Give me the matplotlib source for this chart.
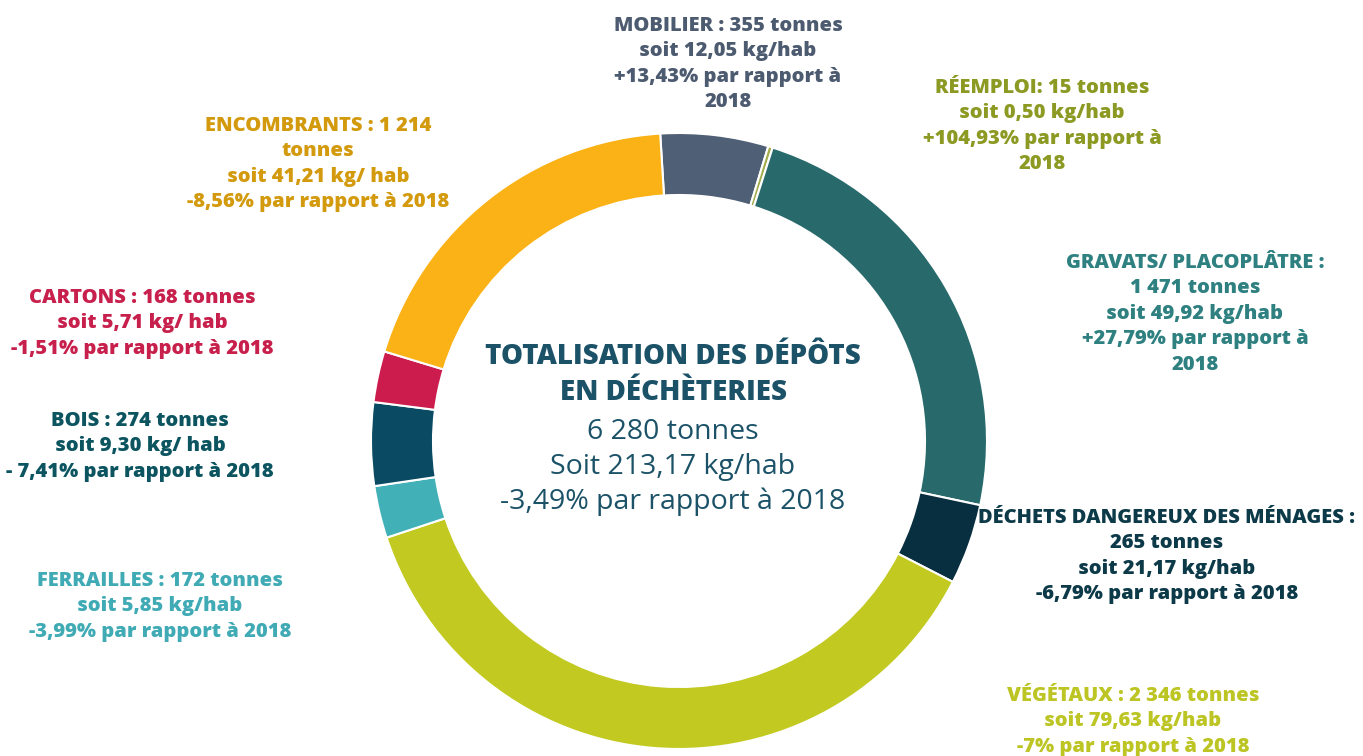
import matplotlib
matplotlib.use("Agg")
import matplotlib.pyplot as plt

plt.rcParams['font.family'] = ['Open Sans', 'DejaVu Sans']

# données (tonnes), dans l'ordre des parts en partant du haut
categories = ["MOBILIER", "RÉEMPLOI", "GRAVATS/ PLACOPLÂTRE", "DÉCHETS DANGEREUX DES MÉNAGES",
              "VÉGÉTAUX", "FERRAILLES", "BOIS", "CARTONS", "ENCOMBRANTS"]
tonnes = [355, 15, 1471, 265, 2346, 172, 274, 168, 1214]
slice_colors = ["#4f5f76", "#a3ad4e", "#286a6c", "#082f3f", "#c2ca22",
                "#42b0b7", "#0a4b63", "#cc1c4d", "#fbb216"]
text_colors = ["#4d5b70", "#8c9a24", "#2f8080", "#0d3a48", "#bcc524",
               "#40aab5", "#0c5560", "#c8204c", "#d39a0e"]
labels = [
    "MOBILIER : 355 tonnes\nsoit 12,05 kg/hab\n+13,43% par rapport à\n2018",
    "RÉEMPLOI: 15 tonnes\nsoit 0,50 kg/hab\n+104,93% par rapport à\n2018",
    "GRAVATS/ PLACOPLÂTRE :\n1 471 tonnes\nsoit 49,92 kg/hab\n+27,79% par rapport à\n2018",
    "DÉCHETS DANGEREUX DES MÉNAGES :\n265 tonnes\nsoit 21,17 kg/hab\n-6,79% par rapport à 2018",
    "VÉGÉTAUX : 2 346 tonnes\nsoit 79,63 kg/hab\n-7% par rapport à 2018",
    "FERRAILLES : 172 tonnes\nsoit 5,85 kg/hab\n-3,99% par rapport à 2018",
    "BOIS : 274 tonnes\nsoit 9,30 kg/ hab\n- 7,41% par rapport à 2018",
    "CARTONS : 168 tonnes\nsoit 5,71 kg/ hab\n-1,51% par rapport à 2018",
    "ENCOMBRANTS : 1 214\ntonnes\nsoit 41,21 kg/ hab\n-8,56% par rapport à 2018",
]
# position (pixels, haut de la première ligne) de chaque étiquette
label_pos = [(728, 16), (1042, 78), (1195, 253), (1167, 508), (1133, 686),
             (160, 571), (140, 411), (142, 288), (318, 116)]

total_lines = ["TOTALISATION DES DÉPÔTS", "EN DÉCHÈTERIES"]
total_text = ["6 280 tonnes", "Soit 213,17 kg/hab", "-3,49% par rapport à 2018"]

W, H = 1363, 756
fig = plt.figure(figsize=(W / 100, H / 100), dpi=100)
ax = fig.add_axes([0, 0, 1, 1])

cx, cy, r = 679, H - 441, 308
ax.pie(tonnes, colors=slice_colors, startangle=93.5, counterclock=False,
       center=(cx, cy), radius=r, frame=True,
       wedgeprops=dict(width=62, edgecolor="white", linewidth=1.5))
ax.set_xlim(0, W)
ax.set_ylim(0, H)
ax.axis("off")

for lab, (x, y), col in zip(labels, label_pos, text_colors):
    ax.text(x, H - y, lab, ha="center", va="top", color=col, fontsize=14.5,
            fontweight="heavy", linespacing=1.36)

for i, t in enumerate(total_lines):
    ax.text(673, H - (357 + 35 * i), t, ha="center", va="center",
            color="#1b5268", fontsize=20, fontweight="heavy")
for i, t in enumerate(total_text):
    ax.text(673, H - (432 + 35 * i), t, ha="center", va="center",
            color="#1b5268", fontsize=20.5)

fig.savefig("out.png", dpi=100)
